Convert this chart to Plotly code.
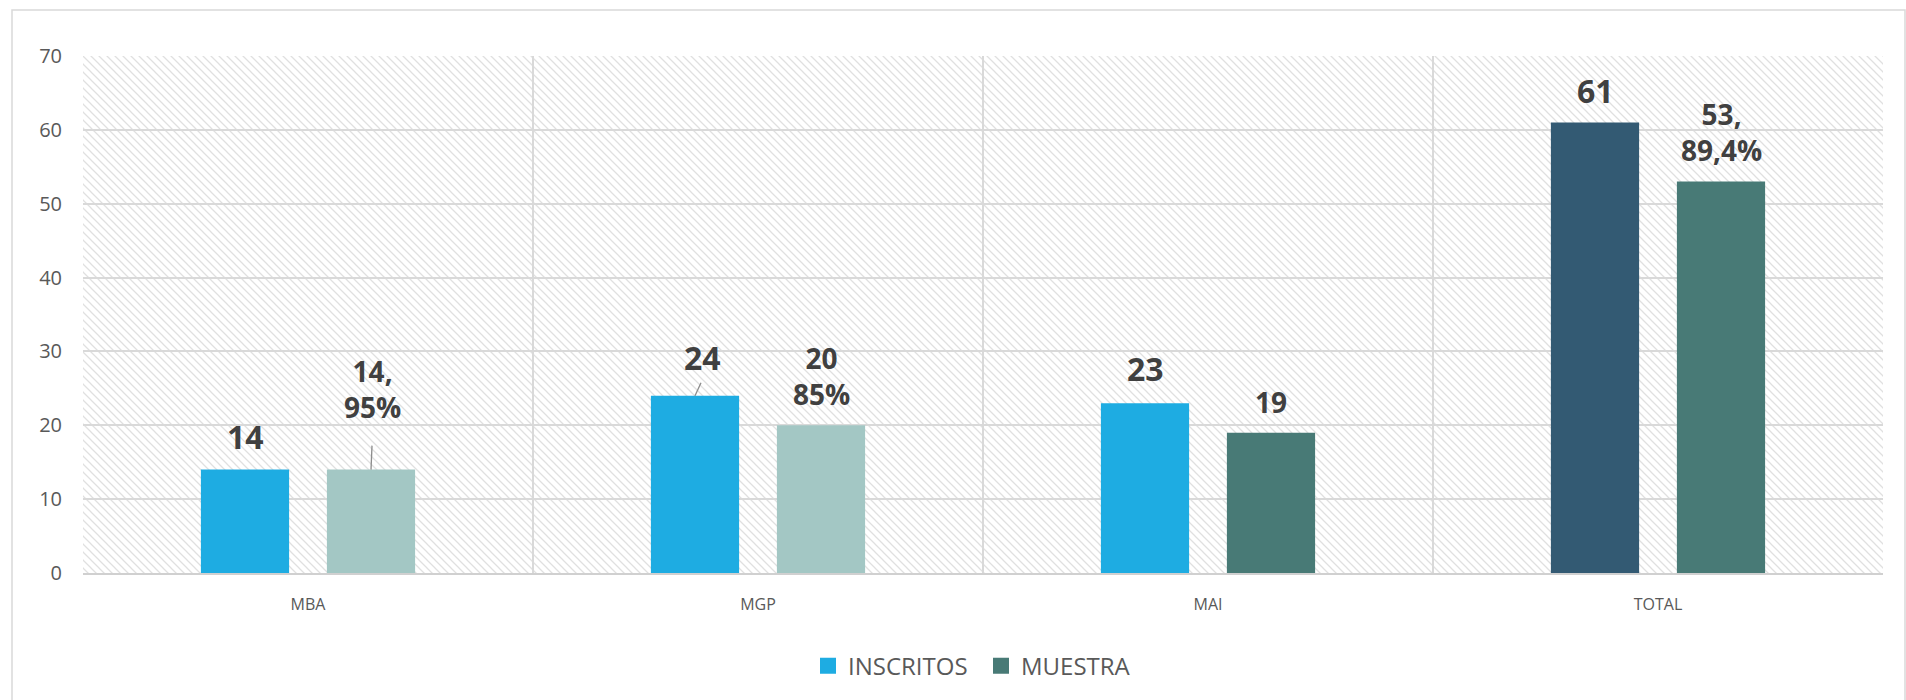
import base64
import plotly.graph_objects as go

# --- data -------------------------------------------------------------
categories = ["MBA", "MGP", "MAI", "TOTAL"]
inscritos = [14, 24, 23, 61]
muestra = [14, 20, 19, 53]
muestra_labels = ["14,<br>95%", "20<br>85%", "19", "53,<br>89,4%"]
inscritos_labels = ["14", "24", "23", "61"]
y_ticks = [0, 10, 20, 30, 40, 50, 60, 70]

# --- styling ----------------------------------------------------------
C_INS = "#1EACE2"
C_INS_TOTAL = "#335A73"
C_MUE_LIGHT = "#A3C7C4"
C_MUE = "#487A76"
GRID = "#D9D9D9"
TXT = "#595959"
LBL = "#404040"
FONT = "Open Sans"

ins_colors = [C_INS, C_INS, C_INS, C_INS_TOTAL]
mue_colors = [C_MUE_LIGHT, C_MUE_LIGHT, C_MUE, C_MUE]

W, H = 1906, 700
ML, MR, MT, MB = 83, 23, 56, 127
PW, PH = W - ML - MR, H - MT - MB

BARGAP = 0.44
BARGROUPGAP = 0.30
OFF = (1 - BARGAP) / 4  # offset of each bar centre from its category centre

fig = go.Figure()
fig.add_trace(go.Bar(x=categories, y=inscritos, name="INSCRITOS",
                     marker=dict(color=ins_colors, line=dict(width=0)),
                     showlegend=False))
fig.add_trace(go.Bar(x=categories, y=muestra, name="MUESTRA",
                     marker=dict(color=mue_colors, line=dict(width=0)),
                     showlegend=False))

# legend swatches
for name, col in [("INSCRITOS", C_INS), ("MUESTRA", C_MUE)]:
    fig.add_trace(go.Scatter(x=[None], y=[None], mode="markers", name=name,
                             marker=dict(symbol="square", size=16, color=col)))

# data labels: (dx pixels, dy pixels above bar top)
ins_pos = [(0, 33), (7, 38), (0, 35), (0, 32)]
mue_pos = [(1, 81), (0, 49), (0, 31), (0, 50)]
annotations = []
for i, cat in enumerate(categories):
    dx, dy = ins_pos[i]
    annotations.append(dict(x=i - OFF, y=inscritos[i], xref="x", yref="y",
                            text=inscritos_labels[i], showarrow=False,
                            xshift=dx, yshift=dy, yanchor="middle",
                            font=dict(family=FONT, size=32, color=LBL,
                                      weight="bold")))
    dx, dy = mue_pos[i]
    annotations.append(dict(x=i + OFF, y=muestra[i], xref="x", yref="y",
                            text=muestra_labels[i], showarrow=False,
                            xshift=dx, yshift=dy, yanchor="middle",
                            font=dict(family=FONT, size=28, color=LBL,
                                      weight="bold")))

# leader lines from bar tops to detached labels
leaders = [(0, +OFF, muestra[0], 1, 24), (1, -OFF, inscritos[1], 6, 13)]
shapes = []
for i, off, val, lx, ly in leaders:
    shapes.append(dict(type="line", xref="x", yref="y",
                       xsizemode="pixel", ysizemode="pixel",
                       xanchor=i + off, yanchor=val,
                       x0=0, y0=0, x1=lx, y1=ly,
                       line=dict(color="#8C8C8C", width=1.3)))

# outer chart frame
shapes.append(dict(type="rect", xref="paper", yref="paper",
                   x0=(12 - ML) / PW, x1=(1905 - ML) / PW,
                   y0=-(H + 10 - MT - PH) / PH, y1=(PH + MT - 10) / PH,
                   line=dict(color=GRID, width=1.5), fillcolor="rgba(0,0,0,0)",
                   layer="below"))

# hatched plot-area background
svg = (f'<svg xmlns="http://www.w3.org/2000/svg" width="{PW}" height="{PH}" '
       f'viewBox="0 0 {PW} {PH}" preserveAspectRatio="none"><defs>'
       '<pattern id="h" width="8" height="8" patternUnits="userSpaceOnUse">'
       '<path d="M-1,-1 L9,9 M-1,7 L1,9 M7,-1 L9,1" stroke="#E0E0E0" '
       'stroke-width="1.3"/></pattern></defs>'
       '<rect width="100%" height="100%" fill="url(#h)"/></svg>')
src = "data:image/svg+xml;base64," + base64.b64encode(svg.encode()).decode()

fig.update_layout(
    width=W, height=H,
    margin=dict(l=ML, r=MR, t=MT, b=MB, pad=0),
    paper_bgcolor="white", plot_bgcolor="rgba(0,0,0,0)",
    barmode="group", bargap=BARGAP, bargroupgap=BARGROUPGAP,
    font=dict(family=FONT, color=TXT),
    images=[dict(source=src, xref="paper", yref="paper", x=0, y=1,
                 sizex=1, sizey=1, xanchor="left", yanchor="top",
                 sizing="stretch", layer="below")],
    annotations=annotations, shapes=shapes,
    legend=dict(orientation="h", x=(808 - ML) / PW, y=-0.18, xanchor="left",
                yanchor="middle", font=dict(family=FONT, size=24, color=TXT),
                itemwidth=30, entrywidth=128, entrywidthmode="pixels",
                tracegroupgap=0),
    showlegend=True,
)
fig.update_xaxes(type="category", tickson="boundaries", showgrid=True,
                 gridcolor=GRID, gridwidth=1.6, ticks="", showline=True,
                 linecolor="#D0D0D0", linewidth=2, mirror=False,
                 tickfont=dict(family=FONT, size=16, color=TXT),
                 ticklabelstandoff=16, range=[-0.5, 3.5])
fig.update_yaxes(range=[0, 70], tickvals=y_ticks, showgrid=True,
                 gridcolor=GRID, gridwidth=1.6, zeroline=False,
                 showline=False, ticks="",
                 tickfont=dict(family=FONT, size=20, color=TXT),
                 ticklabelstandoff=20)

fig.write_html("out.html")
